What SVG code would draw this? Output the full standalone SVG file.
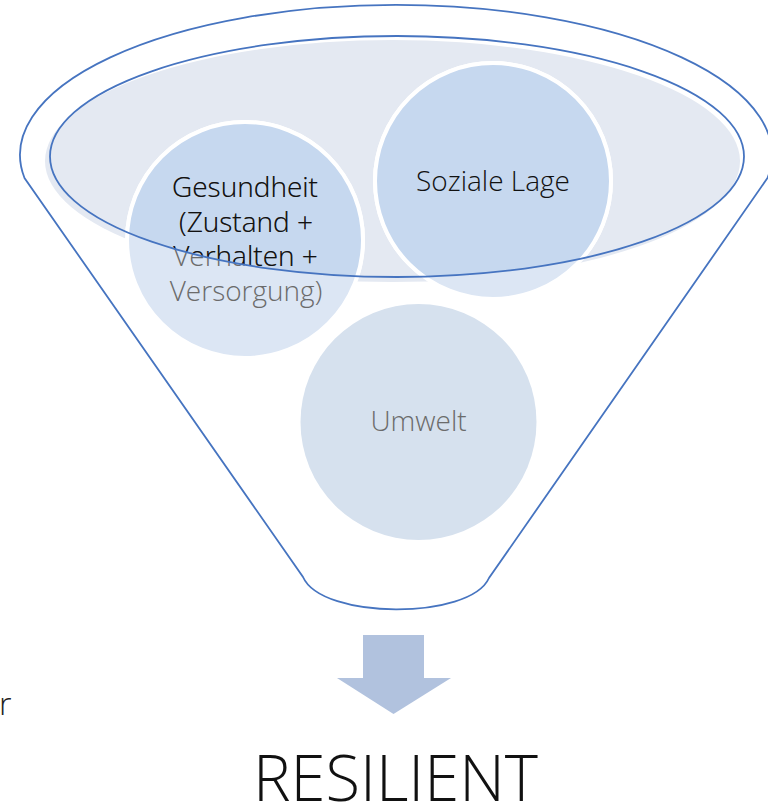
<svg xmlns="http://www.w3.org/2000/svg" width="768" height="804" viewBox="0 0 768 804">
  <defs>
    <clipPath id="inner">
      <ellipse cx="397" cy="156.5" rx="347" ry="120.5"/>
    </clipPath>
    <style>
      .funnel{fill:none;stroke:#4674C0;stroke-width:1.8}
      .lbl{font-family:"Open Sans","Segoe UI","Liberation Sans",sans-serif;font-weight:350;font-size:28px;text-anchor:middle}
      .gray{fill:#6B6B6B}
      .dark{fill:#111111}
      .ring{stroke:#FFFFFF;stroke-width:4}
    </style>
  </defs>
  <rect width="768" height="804" fill="#FFFFFF"/>

  <g id="funnel">
    <path class="funnel" d="M 24.5 178 A 376 150 0 1 1 767.5 178 L 489 578 C 470 620, 322 620, 303 577 Z"/>
    <ellipse cx="392.5" cy="161" rx="347.5" ry="121" fill="#E4E9F2"/>
  </g>

  <g id="node-gesundheit">
    <circle cx="245" cy="240" r="118" fill="#DCE6F4" class="ring"/>
    <circle cx="245" cy="240" r="118" fill="#C6D8EF" class="ring" clip-path="url(#inner)"/>
    <g class="lbl gray">
      <text x="245" y="197">Gesundheit</text>
      <text x="246" y="231.5">(Zustand +</text>
      <text x="245.5" y="266">Verhalten +</text>
      <text x="246" y="300.5">Versorgung)</text>
    </g>
    <g class="lbl dark" clip-path="url(#inner)">
      <text x="245" y="197">Gesundheit</text>
      <text x="246" y="231.5">(Zustand +</text>
      <text x="245.5" y="266">Verhalten +</text>
      <text x="246" y="300.5">Versorgung)</text>
    </g>
  </g>

  <g id="node-soziale">
    <circle cx="493" cy="181" r="118" fill="#DCE6F4" class="ring"/>
    <circle cx="493" cy="181" r="118" fill="#C6D8EF" class="ring" clip-path="url(#inner)"/>
    <text class="lbl dark" x="493" y="191">Soziale Lage</text>
  </g>

  <g id="node-umwelt">
    <circle cx="418.5" cy="422" r="118" fill="#D6E1EE"/>
    <text class="lbl gray" x="418.5" y="431">Umwelt</text>
  </g>

  <g id="inner-rim">
    <ellipse class="funnel" cx="397" cy="156.5" rx="347" ry="120.5"/>
  </g>

  <g id="connectors">
    <polygon points="363,635 424,635 424,678 451,678 393.5,714 337,678 363,678" fill="#B1C2DE"/>
  </g>

  <text x="-1" y="715" font-family="'Open Sans','Segoe UI','Liberation Sans',sans-serif" font-weight="350" font-size="32" fill="#222222">r</text>

  <g id="node-resilient">
    <text x="395.5" y="801" font-family="'Open Sans','Liberation Sans',sans-serif" font-weight="300" font-size="64" fill="#111111" text-anchor="middle" textLength="285" lengthAdjust="spacingAndGlyphs">RESILIENT</text>
  </g>
</svg>
